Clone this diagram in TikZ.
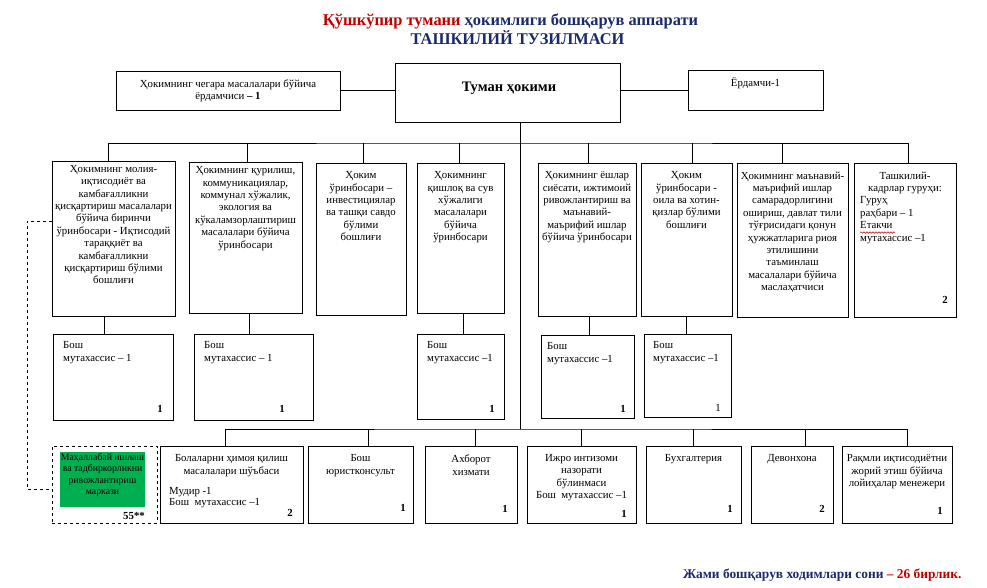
\documentclass[tikz,border=0pt]{standalone}
\usepackage{fontspec}
\setmainfont{Liberation Serif}
\usetikzlibrary{decorations.pathmorphing}
\definecolor{navy}{HTML}{1B2A6B}
\definecolor{tred}{HTML}{C00000}
\definecolor{mgreen}{HTML}{00B050}
\newcommand{\bodyfs}{\fontsize{10.8}{12.4}\selectfont}
\newcommand{\lowfs}{\fontsize{10.8}{13.3}\selectfont}
\newcommand{\greenfs}{\fontsize{9.8}{11.3}\selectfont}
\begin{document}
\begin{tikzpicture}[x=1pt,y=-1pt,
  box/.style={draw, line width=0.8pt, inner sep=0pt, outer sep=0pt},
  ln/.style={line width=0.8pt},
  ctext/.style={font=\bodyfs, inner sep=0pt, align=center, anchor=north},
  ltext/.style={font=\bodyfs, inner sep=0pt, align=left, anchor=north west},
  btext/.style={font=\lowfs, inner sep=0pt, align=center, anchor=north},
  num/.style={font=\bodyfs\bfseries, inner sep=0pt, anchor=base east},
  rnum/.style={font=\bodyfs, inner sep=0pt, anchor=base east}]
\useasboundingbox[fill=white] (0,0) rectangle (987,587);

% titles
\node[font=\fontsize{16.4}{19}\selectfont\bfseries, text=navy, inner sep=0pt] (title1) at (510.5,21) {\textcolor{tred}{Қўшкўпир тумани} ҳокимлиги бошқарув аппарати};
\node[font=\fontsize{16.4}{19}\selectfont\bfseries, text=navy, inner sep=0pt] (title2) at (517.5,38) {ТАШКИЛИЙ ТУЗИЛМАСИ};

% top row
\node[box, minimum width=224pt, minimum height=39pt] (tl) at (228,90.5) {};
\node[box, minimum width=225pt, minimum height=59pt] (th) at (507.5,92.5) {};
\node[box, minimum width=135pt, minimum height=40pt] (tr) at (755.5,90) {};
\node[ctext, font=\fontsize{10.8}{11.5}\selectfont] (tlt) at ([yshift=-9pt]tl.north) {Ҳокимнинг чегара масалалари бўйича\\ёрдамчиси \textbf{– 1}};
\node[font=\fontsize{14.5}{16}\selectfont\bfseries, inner sep=0pt] (tht) at ([xshift=1.5pt,yshift=4.5pt]th.center) {Туман ҳокими};
\node[ctext] (trt) at ([yshift=-7.5pt]tr.north) {Ёрдамчи-1};

% second row
\node[box, minimum width=123pt, minimum height=155pt] (r1) at (113.5,238.5) {};
\node[box, minimum width=113pt, minimum height=151pt] (r2) at (245.5,237.5) {};
\node[box, minimum width=90pt, minimum height=152pt] (r3) at (361,239) {};
\node[box, minimum width=87pt, minimum height=150pt] (r4) at (460.5,238) {};
\node[box, minimum width=98pt, minimum height=153pt] (r5) at (587,239.5) {};
\node[box, minimum width=91pt, minimum height=153pt] (r6) at (686.5,239.5) {};
\node[box, minimum width=111pt, minimum height=154pt] (r7) at (792.5,240) {};
\node[box, minimum width=102pt, minimum height=154pt] (r8) at (905,240) {};

\node[ctext] (r1t) at ([yshift=-4pt]r1.north) {Ҳокимнинг молия-\\иқтисодиёт ва\\камбағалликни\\қисқартириш масалалари\\бўйича биринчи\\ўринбосари - Иқтисодий\\тараққиёт ва\\камбағалликни\\қисқартириш бўлими\\бошлиғи};
\node[ctext] (r2t) at ([yshift=-4.5pt]r2.north) {Ҳокимнинг қурилиш,\\коммуникациялар,\\коммунал хўжалик,\\экология ва\\кўкаламзорлаштириш\\масалалари бўйича\\ўринбосари};
\node[ctext] (r3t) at ([yshift=-8.5pt]r3.north) {Ҳоким\\ўринбосари –\\инвестициялар\\ва ташқи савдо\\бўлими\\бошлиғи};
\node[ctext] (r4t) at ([yshift=-8.5pt]r4.north) {Ҳокимнинг\\қишлоқ ва сув\\хўжалиги\\масалалари\\бўйича\\ўринбосари};
\node[ctext] (r5t) at ([yshift=-8.5pt]r5.north) {Ҳокимнинг ёшлар\\сиёсати, ижтимоий\\ривожлантириш ва\\маънавий-\\маърифий ишлар\\бўйича ўринбосари};
\node[ctext] (r6t) at ([yshift=-8.5pt]r6.north) {Ҳоким\\ўринбосари -\\оила ва хотин-\\қизлар бўлими\\бошлиғи};
\node[ctext] (r7t) at ([yshift=-8.5pt]r7.north) {Ҳокимнинг маънавий-\\маърифий ишлар\\самарадорлигини\\ошириш, давлат тили\\тўғрисидаги қонун\\ҳужжатларига риоя\\этилишини\\таъминлаш\\масалалари бўйича\\маслаҳатчиси};
\node[ctext, font=\fontsize{10.8}{12.6}\selectfont] (r8a) at ([yshift=-8.5pt]r8.north) {Ташкилий-\\кадрлар гуруҳи:};
\node[ltext, font=\fontsize{10.8}{12.6}\selectfont] (r8b) at ([xshift=6pt,yshift=-33.4pt]r8.north west) {Гуруҳ\\раҳбари – 1\\Етакчи\\мутахассис –1};
\draw[tred, line width=0.5pt, decorate, decoration={snake, amplitude=0.7pt, segment length=3pt}] (860,232.5) -- (895,232.5);
\node[num] (r8n) at ([xshift=-8pt,yshift=14pt]r8.south east) {2};

% third row
\node[box, minimum width=120pt, minimum height=86pt] (s1) at (113,377) {};
\node[box, minimum width=119pt, minimum height=86pt] (s2) at (253.5,377) {};
\node[box, minimum width=87pt, minimum height=85pt] (s3) at (460.5,376.5) {};
\node[box, minimum width=93pt, minimum height=83pt] (s4) at (587.5,376.5) {};
\node[box, minimum width=87pt, minimum height=83pt] (s5) at (687.5,375.5) {};

\node[ltext, font=\fontsize{10.8}{12.8}\selectfont] (s1t) at ([xshift=10pt,yshift=-7.5pt]s1.north west) {Бош\\мутахассис – 1};
\node[ltext, font=\fontsize{10.8}{12.8}\selectfont] (s2t) at ([xshift=10pt,yshift=-7.5pt]s2.north west) {Бош\\мутахассис – 1};
\node[ltext, font=\fontsize{10.8}{12.8}\selectfont] (s3t) at ([xshift=10pt,yshift=-7.5pt]s3.north west) {Бош\\мутахассис –1};
\node[ltext, font=\fontsize{10.8}{12.8}\selectfont] (s4t) at ([xshift=6pt,yshift=-7pt]s4.north west) {Бош\\мутахассис –1};
\node[ltext, font=\fontsize{10.8}{12.8}\selectfont] (s5t) at ([xshift=9pt,yshift=-7.5pt]s5.north west) {Бош\\мутахассис –1};
\node[num] (s1n) at ([xshift=-10pt,yshift=8pt]s1.south east) {1};
\node[num] (s2n) at ([xshift=-28pt,yshift=8pt]s2.south east) {1};
\node[num] (s3n) at ([xshift=-9pt,yshift=7pt]s3.south east) {1};
\node[num] (s4n) at ([xshift=-8pt,yshift=6pt]s4.south east) {1};
\node[rnum] (s5n) at ([xshift=-10pt,yshift=6pt]s5.south east) {1};

% bottom row
\node[box, dashed, minimum width=105pt, minimum height=77pt] (m) at (104.5,484.5) {};
\node[fill=mgreen, inner sep=0pt, minimum width=85pt, minimum height=55pt] (mg) at (102.5,479.5) {};
\node[font=\greenfs, align=center, inner sep=0pt] (mgt) at ([yshift=4.5pt]mg.center) {Маҳаллабай ишлаш\\ва тадбиркорликни\\ривожлантириш\\маркази};
\node[num] (mn) at ([xshift=-12pt,yshift=4pt]m.south east) {55**};

\node[box, minimum width=143pt, minimum height=77pt] (q1) at (231.5,484.5) {};
\node[box, minimum width=105pt, minimum height=77pt] (q2) at (360.5,484.5) {};
\node[box, minimum width=92pt, minimum height=77pt] (q3) at (471,484.5) {};
\node[box, minimum width=109pt, minimum height=77pt] (q4) at (581.5,484.5) {};
\node[box, minimum width=95pt, minimum height=77pt] (q5) at (693.5,484.5) {};
\node[box, minimum width=82pt, minimum height=77pt] (q6) at (792,484.5) {};
\node[box, minimum width=110pt, minimum height=77pt] (q7) at (897,484.5) {};

\node[btext] (q1t) at ([yshift=-8.4pt]q1.north) {Болаларни ҳимоя қилиш\\масалалари шўъбаси};
\node[ltext, font=\fontsize{10.8}{11.5}\selectfont] (q1l) at ([xshift=9pt,yshift=-41pt]q1.north west) {Мудир -1\\Бош\ \ мутахассис –1};
\node[btext] (q2t) at ([yshift=-8.4pt]q2.north) {Бош\\юристконсульт};
\node[btext] (q3t) at ([yshift=-8.4pt]q3.north) {Ахборот\\хизмати};
\node[btext, font=\fontsize{10.8}{12.2}\selectfont] (q4t) at ([yshift=-8.4pt]q4.north) {Ижро интизоми\\назорати\\бўлинмаси\\Бош\ \ мутахассис –1};
\node[btext] (q5t) at ([yshift=-8.4pt]q5.north) {Бухгалтерия};
\node[btext] (q6t) at ([yshift=-8.4pt]q6.north) {Девонхона};
\node[btext, font=\fontsize{10.8}{12.4}\selectfont] (q7t) at ([yshift=-8.4pt]q7.north) {Рақмли иқтисодиётни\\жорий этиш бўйича\\лойиҳалар менежери};

\node[num] (q1n) at ([xshift=-10pt,yshift=7pt]q1.south east) {2};
\node[num] (q2n) at ([xshift=-7pt,yshift=12pt]q2.south east) {1};
\node[num] (q3n) at ([xshift=-9pt,yshift=11pt]q3.south east) {1};
\node[num] (q4n) at ([xshift=-9pt,yshift=6pt]q4.south east) {1};
\node[num] (q5n) at ([xshift=-8pt,yshift=11pt]q5.south east) {1};
\node[num] (q6n) at ([xshift=-8pt,yshift=11pt]q6.south east) {2};
\node[num] (q7n) at ([xshift=-9pt,yshift=9pt]q7.south east) {1};

% total
\node[font=\fontsize{13.4}{15}\selectfont\bfseries, text=navy, anchor=base west, inner sep=0pt] (total) at (683,578) {Жами бошқарув ходимлари сони \textcolor{tred}{– 26 бирлик.}};

% connectors
\coordinate (busT) at (520,143);
\coordinate (busB) at (520,429);
\coordinate (dA) at (27,221);
\coordinate (dB) at (27,489);

\draw[ln] (tl.east) -- (tl.east -| th.west);
\draw[ln] (th.east |- tr.west) -- (tr.west);
\draw[ln] (th.south -| busT) -- (busB);

\draw[ln] ([xshift=-5.5pt]r1.north) |- (busT) -| ([xshift=3pt]r8.north);
\draw[ln] ([xshift=1.5pt]r2.north) -- ([xshift=1.5pt]r2.north |- busT);
\draw[ln] ([xshift=2pt]r3.north) -- ([xshift=2pt]r3.north |- busT);
\draw[ln] ([xshift=-1.5pt]r4.north) -- ([xshift=-1.5pt]r4.north |- busT);
\draw[ln] ([xshift=1pt]r5.north) -- ([xshift=1pt]r5.north |- busT);
\draw[ln] ([xshift=5.5pt]r6.north) -- ([xshift=5.5pt]r6.north |- busT);
\draw[ln] ([xshift=-10.5pt]r7.north) -- ([xshift=-10.5pt]r7.north |- busT);

\draw[ln] ([xshift=-9.5pt]r1.south) -- ([xshift=-9.5pt]r1.south |- s1.north);
\draw[ln] ([xshift=3.5pt]r2.south) -- ([xshift=3.5pt]r2.south |- s2.north);
\draw[ln] ([xshift=2.5pt]r4.south) -- ([xshift=2.5pt]r4.south |- s3.north);
\draw[ln] ([xshift=2pt]r5.south) -- ([xshift=2pt]r5.south |- s4.north);
\draw[ln] (r6.south) -- (r6.south |- s5.north);

\draw[ln] ([xshift=-6.5pt]q1.north) |- (busB) -| ([xshift=10pt]q7.north);
\draw[ln] ([xshift=7.5pt]q2.north) -- ([xshift=7.5pt]q2.north |- busB);
\draw[ln] ([xshift=4pt]q3.north) -- ([xshift=4pt]q3.north |- busB);
\draw[ln] (q4.north) -- (q4.north |- busB);
\draw[ln] (q5.north) -- (q5.north |- busB);
\draw[ln] ([xshift=13pt]q6.north) -- ([xshift=13pt]q6.north |- busB);

\draw[ln, dashed] (r1.west |- dA) -- (dA) -- (dB) -- (m.west |- dB);
\end{tikzpicture}
\end{document}
